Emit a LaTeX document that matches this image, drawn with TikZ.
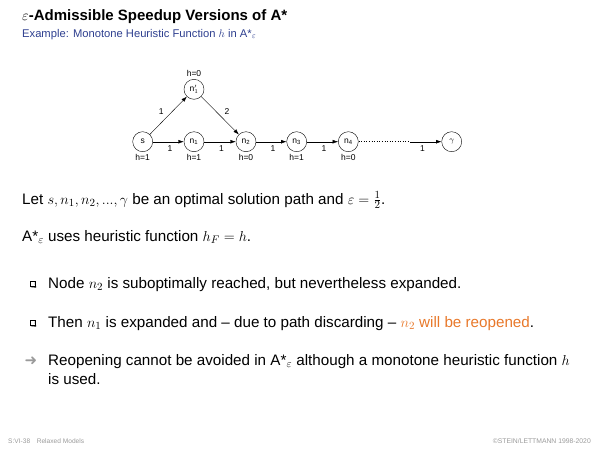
\documentclass[tikz,border=0pt]{standalone}
\usepackage{amsmath}
\usepackage{fontspec}
\setmainfont{Liberation Sans}
\newfontfamily\symfont{DejaVu Sans}
\usepackage{xcolor}
\usetikzlibrary{arrows.meta,positioning}
\definecolor{slideblue}{HTML}{2E3F8F}
\definecolor{reopen}{HTML}{E8782A}
\definecolor{footgray}{HTML}{9A9A9A}

\newcommand{\astar}{A*$_\varepsilon$}

\begin{document}
\begin{tikzpicture}[x=1pt,y=-1pt,
    vertex/.style={draw,circle,minimum size=20pt,inner sep=0pt,font=\fontsize{8.5}{9}\selectfont},
    hval/.style={font=\fontsize{8.5}{9}\selectfont},
    cost/.style={font=\fontsize{8.5}{9}\selectfont},
    edge/.style={-{Latex[length=5.5pt,width=3.8pt]}},
    body/.style={anchor=base west,inner sep=0pt,font=\fontsize{15.2}{19}\selectfont},
    boxbullet/.style={draw,fill=white,minimum size=5pt,inner sep=0pt,line width=0.4pt}]
  \useasboundingbox (0,0) rectangle (600,450);

  % title
  \node[anchor=base west,inner sep=0pt,font=\fontsize{15}{17}\bfseries\selectfont] (title) at (22,20)
    {$\varepsilon$-Admissible Speedup Versions of A*};
  \node[anchor=base west,inner sep=0pt,text=slideblue,font=\fontsize{11.2}{13}\selectfont] (sub) at (22,37)
    {Example: Monotone Heuristic Function $h$ in \astar};

  % graph
  \node[vertex] (s)  at (142.7,141.7) {s};
  \node[vertex] (n1) at (194,141.7) {n\textsubscript{1}};
  \node[vertex] (n2) at (246,141.7) {n\textsubscript{2}};
  \node[vertex] (n3) at (296.7,141.7) {n\textsubscript{3}};
  \node[vertex] (n4) at (348.3,141.7) {n\textsubscript{4}};
  \node[vertex] (g)  at (451.7,141.7) {$\gamma$};
  \node[vertex] (m1) at (194,89.3) {n$'_1$};
  \coordinate (dots) at (410,141.7);

  \draw[edge] (s) -- (m1) node[cost,pos=0.45,above left=-1pt] {1};
  \draw[edge] (m1) -- (n2) node[cost,pos=0.55,above right=-1pt] {2};
  \draw[edge] (s) -- (n1) node[cost,pos=0.55,below=0.5pt] {1};
  \draw[edge] (n1) -- (n2) node[cost,pos=0.55,below=0.5pt] {1};
  \draw[edge] (n2) -- (n3) node[cost,pos=0.55,below=0.5pt] {1};
  \draw[edge] (n3) -- (n4) node[cost,pos=0.55,below=0.5pt] {1};
  \draw[dotted,line width=0.6pt] (n4) -- (dots);
  \draw[edge] (dots) -- (g) node[cost,pos=0.4,below=0.5pt] {1};

  \node[hval,below=-1pt of s]  {h=1};
  \node[hval,below=-1pt of n1] {h=1};
  \node[hval,below=-1pt of n2] {h=0};
  \node[hval,below=-1pt of n3] {h=1};
  \node[hval,below=-1pt of n4] {h=0};
  \node[hval,above=-1pt of m1] {h=0};

  % text
  \node[body] (let) at (22,204)
    {Let $s, n_1, n_2, ..., \gamma$ be an optimal solution path and $\varepsilon=\frac{1}{2}$.};
  \node[body] (uses) at (22,241) {\astar\ uses heuristic function $h_F=h$.};

  \node[boxbullet] (b1) at (32.5,284) {};
  \draw[line width=0.9pt] ([xshift=0.9pt]b1.south west) -- ([xshift=0.45pt,yshift=-0.45pt]b1.south east) -- ([yshift=-0.9pt]b1.north east);
  \node[body] (t1) at (48,288) {Node $n_2$ is suboptimally reached, but nevertheless expanded.};

  \node[boxbullet] (b2) at (32.5,323) {};
  \draw[line width=0.9pt] ([xshift=0.9pt]b2.south west) -- ([xshift=0.45pt,yshift=-0.45pt]b2.south east) -- ([yshift=-0.9pt]b2.north east);
  \node[body] (t2) at (48,327) {Then $n_1$ is expanded and -- due to path discarding -- \textcolor{reopen}{$n_2$ will be reopened}.};

  \node[anchor=center,text=footgray,inner sep=0pt,font=\symfont\fontsize{15}{16}\selectfont] (arr) at (31,361) {➜};
  \node[body,align=left] (t3) at (48,384)
    {Reopening cannot be avoided in \astar\ although a monotone heuristic function $h$\\ is used.};

  % footer
  \node[anchor=base west,inner sep=0pt,text=footgray,font=\fontsize{6.6}{7}\selectfont] (foot) at (8,443)
    {S:VI-38\quad Relaxed Models};
  \node[anchor=base east,inner sep=0pt,text=footgray,font=\fontsize{6.8}{7}\selectfont] (copy) at (591,443)
    {\copyright STEIN/LETTMANN 1998-2020};
\end{tikzpicture}
\end{document}
